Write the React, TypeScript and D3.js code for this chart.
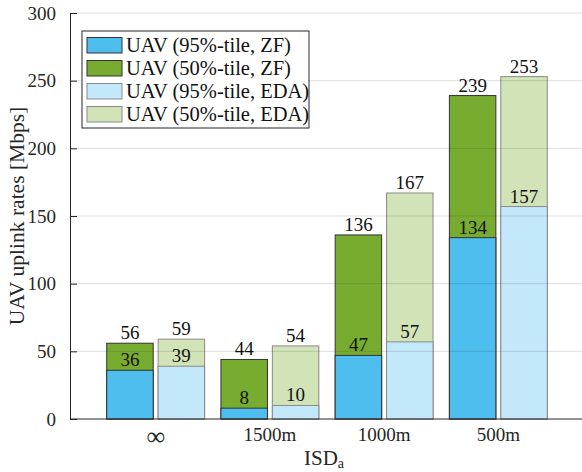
import * as d3 from "d3";
import React, { useRef, useEffect } from "react";

const categories = ["∞", "1500m", "1000m", "500m"];
const zf95 = [36, 8, 47, 134];
const zf50 = [56, 44, 136, 239];
const eda95 = [39, 10, 57, 157];
const eda50 = [59, 54, 167, 253];
const yTicks = [0, 50, 100, 150, 200, 250, 300];
const legendLabels = [
  "UAV (95%-tile, ZF)",
  "UAV (50%-tile, ZF)",
  "UAV (95%-tile, EDA)",
  "UAV (50%-tile, EDA)",
];

const blue = "#4dbeee";
const green = "#77ac30";
const lightBlue = "#c3e8f9";
const lightGreen = "#d1e3b7";
const font = "Liberation Serif, Tinos, Times New Roman, DejaVu Serif, serif";

export default function App() {
  const ref = useRef(null);
  const width = 582;
  const height = 472;

  useEffect(() => {
    document.body.style.margin = "0";
    draw();
  }, []);

  const draw = () => {
    const svg = d3.select(ref.current);
    svg.selectAll("*").remove();

    const x = d3.scaleLinear().domain([0.25, 4.75]).range([70, 584]);
    const y = d3.scaleLinear().domain([0, 300]).range([419, 13]);
    const barW = x(0.407) - x(0);
    const off = x(0.225) - x(0);

    const groups = [
      { top: zf50, bottom: zf95, topColor: green, botColor: blue, edge: "#333", dx: -off },
      { top: eda50, bottom: eda95, topColor: lightGreen, botColor: lightBlue, edge: "#8a8a8a", dx: off },
    ];

    groups.forEach(g => {
      const gg = svg.append("g");
      // full 50%-tile bar first, then the 95%-tile bar on top
      gg.selectAll("rect.top")
        .data(g.top)
        .enter()
        .append("rect")
        .attr("x", (d, i) => x(i + 1) + g.dx - barW / 2)
        .attr("y", d => y(d))
        .attr("width", barW)
        .attr("height", d => y(0) - y(d))
        .attr("fill", g.topColor)
        .attr("stroke", g.edge)
        .attr("stroke-width", 1);
      gg.selectAll("rect.bot")
        .data(g.bottom)
        .enter()
        .append("rect")
        .attr("x", (d, i) => x(i + 1) + g.dx - barW / 2)
        .attr("y", d => y(d))
        .attr("width", barW)
        .attr("height", d => y(0) - y(d))
        .attr("fill", g.botColor)
        .attr("stroke", g.edge)
        .attr("stroke-width", 1);

      [g.top, g.bottom].forEach(vals => {
        gg.selectAll(null)
          .data(vals)
          .enter()
          .append("text")
          .attr("x", (d, i) => x(i + 1) + g.dx)
          .attr("y", d => y(d) - 4)
          .attr("text-anchor", "middle")
          .style("font-family", font)
          .attr("font-size", "19px")
          .attr("fill", "#111")
          .text(d => d);
      });
    });

    // grid lines (drawn over the bars, faint)
    svg.append("g")
      .selectAll("line")
      .data(yTicks.slice(1))
      .enter()
      .append("line")
      .attr("x1", 70)
      .attr("x2", width)
      .attr("y1", d => y(d))
      .attr("y2", d => y(d))
      .attr("stroke", "#262626")
      .attr("stroke-opacity", 0.15)
      .attr("stroke-width", 1);

    // Y axis
    const yAxis = svg.append("g")
      .attr("transform", "translate(70,0)")
      .call(d3.axisLeft(y).tickValues(yTicks).tickSize(-7).tickPadding(14));
    yAxis.select(".domain").attr("stroke", "#262626");
    yAxis.selectAll(".tick line").attr("stroke", "#262626");
    yAxis.selectAll("text")
      .style("font-family", font)
      .attr("font-size", "19px")
      .attr("fill", "#262626");

    // X axis
    svg.append("line")
      .attr("x1", 70)
      .attr("x2", width)
      .attr("y1", y(0))
      .attr("y2", y(0))
      .attr("stroke", "#262626");
    svg.append("g")
      .selectAll("text")
      .data(categories)
      .enter()
      .append("text")
      .attr("x", (d, i) => x(i + 1))
      .attr("y", (d, i) => (i === 0 ? 445 : 441))
      .attr("text-anchor", "middle")
      .style("font-family", font)
      .attr("font-size", (d, i) => (i === 0 ? "26px" : "19px"))
      .attr("fill", "#262626")
      .text(d => d);

    // axis titles
    const xl = svg.append("text")
      .attr("x", 324)
      .attr("y", 465)
      .attr("text-anchor", "middle")
      .style("font-family", font)
      .attr("font-size", "21px")
      .attr("fill", "#262626");
    xl.append("tspan").text("ISD");
    xl.append("tspan").attr("font-size", "14px").attr("dy", 3).text("a");

    svg.append("text")
      .attr("transform", "translate(24," + 216 + ") rotate(-90)")
      .attr("text-anchor", "middle")
      .style("font-family", font)
      .attr("font-size", "21.5px")
      .attr("fill", "#262626")
      .text("UAV uplink rates [Mbps]");

    // legend
    const legend = svg.append("g");
    legend.append("rect")
      .attr("x", 82)
      .attr("y", 31)
      .attr("width", 227)
      .attr("height", 97)
      .attr("fill", "#fff")
      .attr("stroke", "#262626");
    const colors = [blue, green, lightBlue, lightGreen];
    const edges = ["#333", "#333", "#8a8a8a", "#8a8a8a"];
    legendLabels.forEach((l, i) => {
      legend.append("rect")
        .attr("x", 87)
        .attr("y", 37.5 + i * 23)
        .attr("width", 35)
        .attr("height", 15.5)
        .attr("fill", colors[i])
        .attr("stroke", edges[i]);
      legend.append("text")
        .attr("x", 126)
        .attr("y", 51.5 + i * 23)
        .style("font-family", font)
        .attr("font-size", "20.5px")
        .attr("fill", "#111")
        .text(l);
    });
  };

  return (
    <div className="chart">
      <svg ref={ref} width={width} height={height} style={{ display: "block" }}></svg>
    </div>
  );
}
